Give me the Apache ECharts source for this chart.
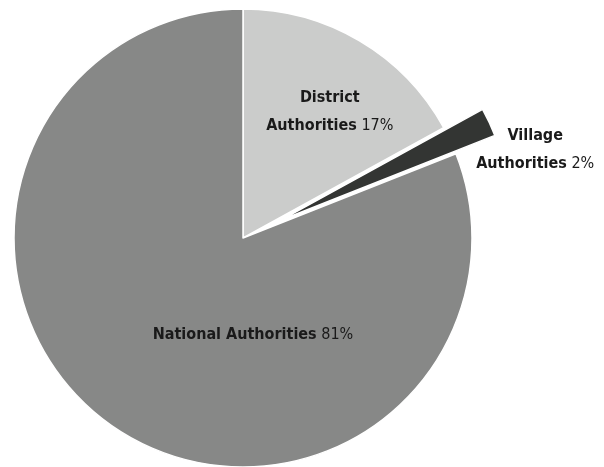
<!DOCTYPE html>
<html>
<head>
<meta charset="utf-8">
<script src="https://cdn.jsdelivr.net/npm/echarts@6/dist/echarts.min.js"></script>
<style>
  html, body { margin: 0; padding: 0; background: #fff; }
  #chart { width: 604px; height: 467px; }
</style>
</head>
<body>
<div id="chart"></div>
<script>
    // 数据
    const names = ['District Authorities', 'Village Authorities', 'National Authorities'];
    const shortNames = [['District', 'Authorities'], ['Village', 'Authorities'], ['National Authorities']];
    const values = [17, 2, 81];
    const colors = ['#cbcccb', '#333533', '#878887'];

    // 标签偏移 (relative to the default inside anchor)
    const labelShift = [
        { dx: 27, dy: -25 },
        { dx: 147, dy: -20 },
        { dx: 76, dy: 0 }
    ];

    const fontStack = '"Liberation Sans Narrow", "DejaVu Sans Condensed", sans-serif';

    const chart = echarts.init(document.getElementById('chart'));

    const seriesData = names.map((name, i) => ({
        name: name,
        value: values[i],
        selected: i === 1,
        itemStyle: { color: colors[i] }
    }));

    chart.setOption({
        backgroundColor: '#fff',
        animation: false,
        series: [{
            type: 'pie',
            center: [243, 238],
            radius: [0, 229],
            startAngle: 90,
            clockwise: true,
            selectedMode: 'single',
            selectedOffset: 43,
            emphasis: { disabled: true },
            itemStyle: {
                borderColor: '#fff',
                borderWidth: 1.5
            },
            label: {
                show: true,
                position: 'inside',
                fontFamily: fontStack,
                fontSize: 16,
                lineHeight: 28,
                color: '#1a1a1a',
                formatter: (p) => {
                    const parts = shortNames[p.dataIndex];
                    if (parts.length === 1) {
                        return `{b|${parts[0]}} {p|${p.value}%}`;
                    }
                    return `{b|${parts[0]}}\n{b|${parts[1]}} {p|${p.value}%}`;
                },
                rich: {
                    b: {
                        fontFamily: fontStack,
                        fontWeight: 'bold',
                        fontSize: 16,
                        color: '#1a1a1a'
                    },
                    p: {
                        fontFamily: fontStack,
                        fontSize: 16,
                        color: '#1a1a1a'
                    }
                }
            },
            labelLine: { show: false },
            labelLayout: (params) => {
                const s = labelShift[params.dataIndex];
                return {
                    dx: s.dx,
                    dy: s.dy,
                    align: 'center',
                    verticalAlign: 'middle'
                };
            },
            data: seriesData
        }]
    });
</script>
</body>
</html>
